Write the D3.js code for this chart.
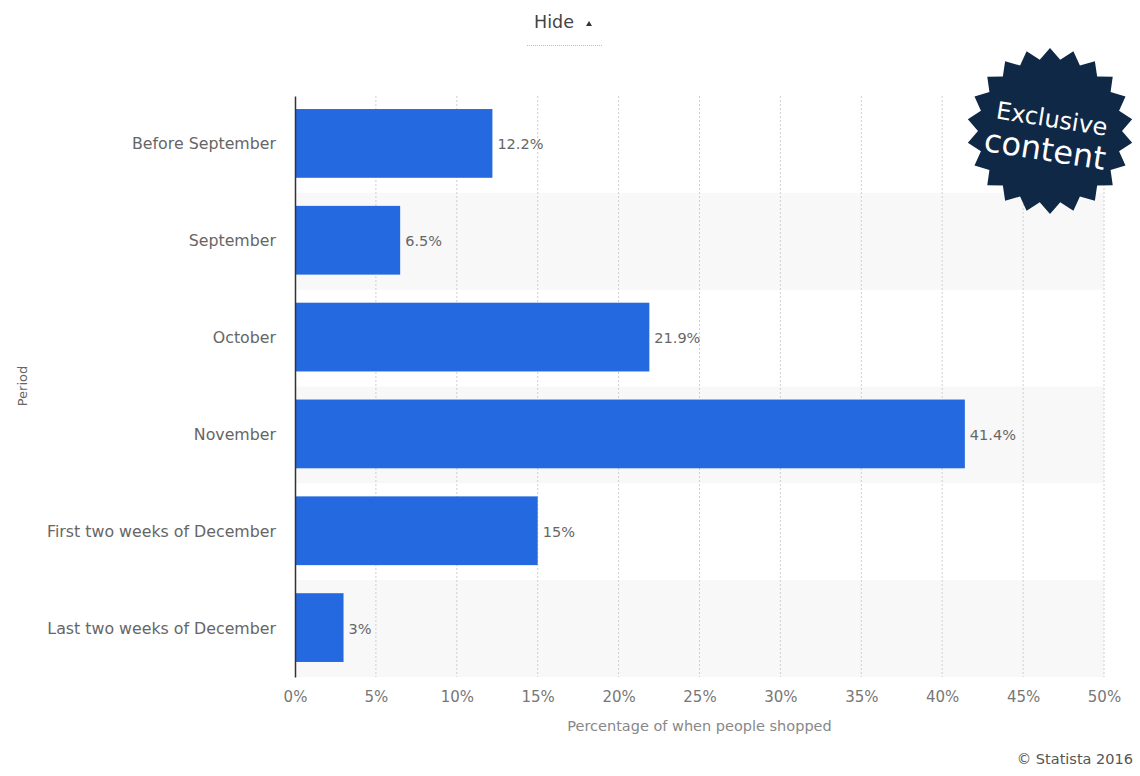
<!DOCTYPE html>
<html><head><meta charset="utf-8">
<script src="https://cdn.jsdelivr.net/npm/d3@7"></script>
<style>
body{margin:0;background:#fff;}
svg text{font-family:"DejaVu Sans",sans-serif;}
</style></head>
<body><svg id="chart" width="1140" height="776"></svg>
<script>
const categories = ["Before September","September","October","November","First two weeks of December","Last two weeks of December"];
const values = [12.2, 6.5, 21.9, 41.4, 15, 3];
const valueLabels = ["12.2%","6.5%","21.9%","41.4%","15%","3%"];
const xTicks = [0,5,10,15,20,25,30,35,40,45,50];

const svg = d3.select("#chart");
const m = {left:295, right:1104, top:96, bottom:677};
const x = d3.scaleLinear().domain([0,50]).range([m.left, m.right]);
const y = d3.scaleBand().domain(categories).range([m.top, m.bottom]).paddingInner(0).paddingOuter(0);
const barPad = 0.145;

// alternating bands
svg.append("g").selectAll("rect").data(categories.filter((d,i)=>i%2===1)).join("rect")
  .attr("x", m.left).attr("width", m.right - m.left)
  .attr("y", d=>y(d)).attr("height", y.bandwidth())
  .attr("fill", "#f8f8f8");

// gridlines
svg.append("g").selectAll("line").data(xTicks.filter(t=>t>0)).join("line")
  .attr("x1", d=>x(d)).attr("x2", d=>x(d)).attr("y1", m.top).attr("y2", m.bottom)
  .attr("stroke", "#cfcfcf").attr("stroke-width",1).attr("stroke-dasharray","2,2");

// bars
svg.append("g").selectAll("rect").data(categories).join("rect")
  .attr("x", x(0)).attr("y", (d)=>y(d)+y.bandwidth()*barPad - 1)
  .attr("height", y.bandwidth()*(1-2*barPad))
  .attr("width", (d,i)=>x(values[i])-x(0))
  .attr("fill", "#2469e0");

// value labels
svg.append("g").selectAll("text").data(categories).join("text")
  .attr("x", (d,i)=>x(values[i])+5).attr("y", d=>y(d)+y.bandwidth()/2)
  .attr("dy","0.35em").attr("font-size",14.5).attr("fill","#666")
  .text((d,i)=>valueLabels[i]);

// y axis
const yAxis = svg.append("g").attr("transform",`translate(${m.left},0)`)
  .call(d3.axisLeft(y).tickSize(0).tickPadding(19));
yAxis.select(".domain").attr("stroke","#333").attr("stroke-width",1.5);
yAxis.selectAll("text").attr("font-size",15.8).attr("fill","#666").attr("font-family","DejaVu Sans");

// x axis
const xAxis = svg.append("g").attr("transform",`translate(0,${m.bottom})`)
  .call(d3.axisBottom(x).tickValues(xTicks).tickSize(0).tickPadding(14).tickFormat(d=>d+"%"));
xAxis.select(".domain").remove();
xAxis.selectAll("text").attr("font-size",15).attr("fill","#777").attr("font-family","DejaVu Sans Condensed, DejaVu Sans");

// axis titles
svg.append("text").attr("x",(m.left+m.right)/2).attr("y",731).attr("text-anchor","middle")
  .attr("font-size",14.5).attr("fill","#888").attr("font-family","DejaVu Sans Condensed, DejaVu Sans")
  .text("Percentage of when people shopped");
svg.append("text").attr("transform","translate(27,386) rotate(-90)").attr("text-anchor","middle")
  .attr("font-size",13).attr("fill","#666").text("Period");

svg.append("text").attr("x",1133).attr("y",764).attr("text-anchor","end")
  .attr("font-size",14.5).attr("fill","#555").attr("font-family","DejaVu Sans Condensed, DejaVu Sans")
  .text("© Statista 2016");

// Hide toggle
svg.append("text").attr("x",534).attr("y",28).attr("font-size",17.5).attr("fill","#444").text("Hide");
svg.append("path").attr("d","M586,26 L592,26 L589,21 Z").attr("fill","#333");
svg.append("line").attr("x1",527).attr("x2",603).attr("y1",45.5).attr("y2",45.5)
  .attr("stroke","#bbb").attr("stroke-dasharray","1,1");

// badge
const cx=1050, cy=131, R=83, r=72, n=22;
const pts=[];
for(let i=0;i<2*n;i++){
  const a = Math.PI*i/n - Math.PI/2;
  const rr = i%2===0?R:r;
  pts.push([cx+rr*Math.cos(a), cy+rr*Math.sin(a)]);
}
svg.append("polygon").attr("points",pts.map(p=>p.join(",")).join(" ")).attr("fill","#0e2846");
const bg = svg.append("g").attr("transform",`translate(${cx},${cy}) rotate(9)`);
bg.append("text").attr("x",0).attr("y",-4).attr("text-anchor","middle").attr("font-family","Open Sans")
  .attr("font-size",24).attr("fill","#fff").text("Exclusive");
bg.append("text").attr("x",-2).attr("y",30).attr("text-anchor","middle").attr("font-family","Open Sans")
  .attr("font-size",32).attr("fill","#fff").text("content");
</script></body></html>
